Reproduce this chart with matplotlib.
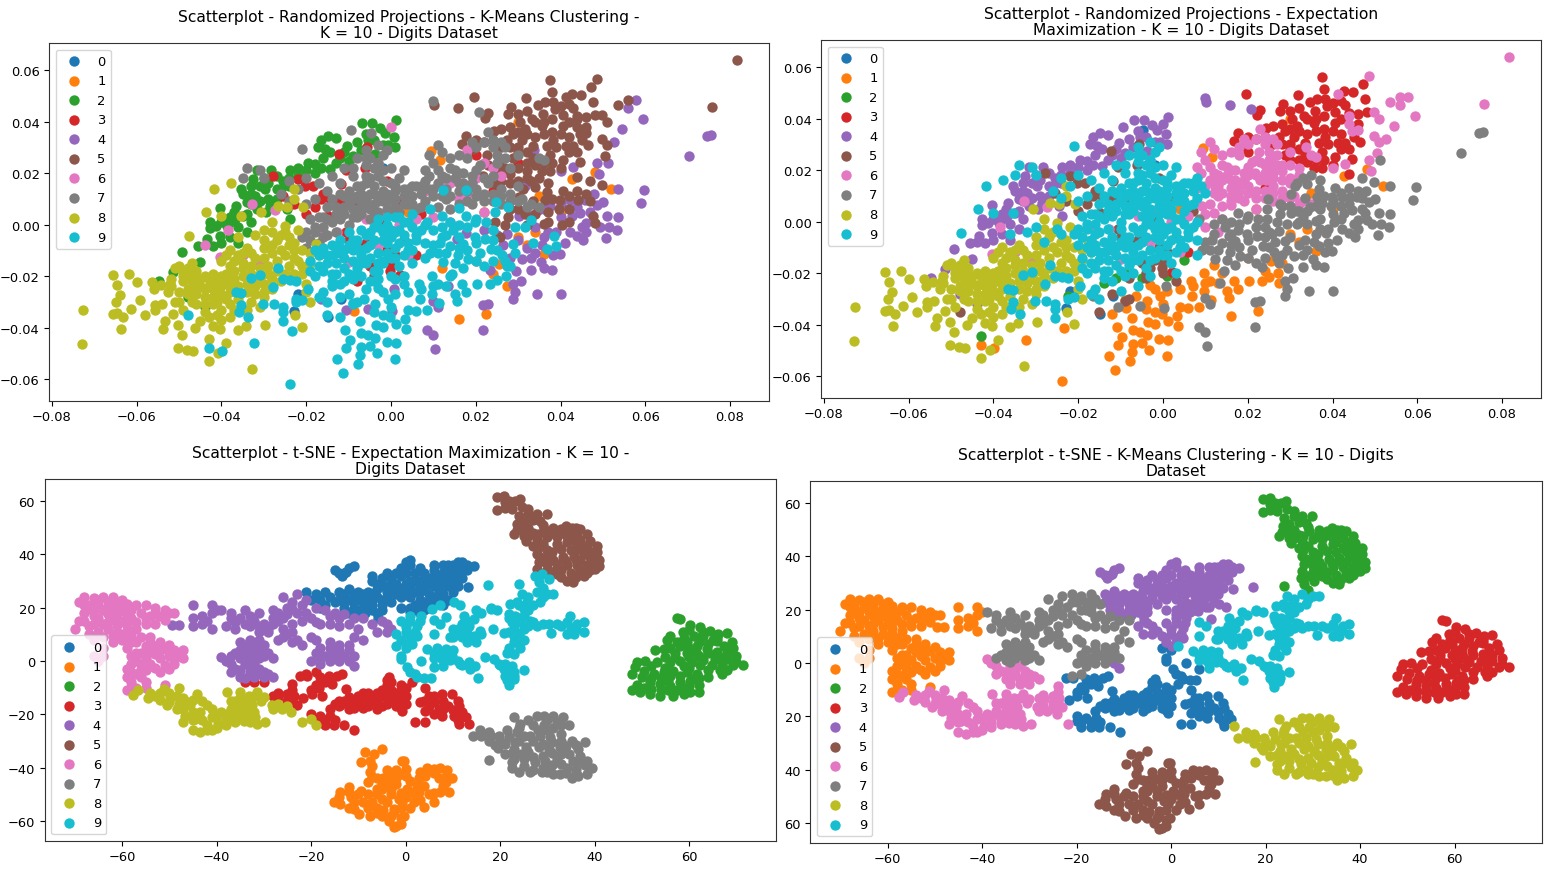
import numpy as np
import matplotlib
matplotlib.use("Agg")
import matplotlib.pyplot as plt

W, H = 1566, 878
LABELS = list(range(10))

# ---------- randomized projection points (units of 0.001) ----------
rp_olive = [(-72.7,-33.3),(-72.8,-46.2),(-65.6,-19.7),(-64.6,-23.6),(-61.8,-19.1),(-60,-22.3),(-64,-27.5),(-64.8,-30),(-65.7,-34.6),(-64.6,-34.2),(-63.2,-36),(-63.7,-40.4),(-61.3,-32.6),(-59.3,-29.4),(-58,-35),(-56.5,-22.3),(-56,-25),(-55.8,-31.4),(-55.8,-33.3),(-54,-30.7),(-53.8,-40.4),(-53.4,-37.5),(-54.2,-23.6),(-52.2,-23),(-52.6,-26),(-50.9,-30),(-51.4,-34.6),(-50.2,-38.8),(-49.4,-43),(-50.2,-48),(-48.1,-48.8),(-46.7,-49),(-46.3,-40),(-45,-37.5),(-42.9,-53),(-40.8,-49.7),(-39,-45.8),(-42,-39.5),(-40.4,-40.4),(-36,-40.8),(-34.3,-39.4),(-29.8,-39),(-32.9,-56),(-21,-39.7),(-22.7,-35),
 (-50,-16),(-48,-17),(-46,-18),(-44,-20),(-42,-19),(-40,-20),(-49,-20),(-47,-22),(-45,-24),(-43,-24),(-41,-23),(-39,-22),(-37,-21),(-35,-20),(-33,-19),(-31,-17),(-29,-16),(-27,-14),(-25,-12),(-23,-10),(-52,-24),(-50,-26),(-48,-25),(-46,-27),(-44,-28),(-42,-28),(-40,-27),(-38,-26),(-36,-24),(-34,-23),(-32,-24),(-30,-23),(-28,-21),(-26,-22),(-50,-30),(-46,-31),(-42,-31),(-40,-33),(-38,-31),(-36,-29),(-33,-30),(-30,-28),(-40,-37),(-44,-34),(-36,-12),(-38,-10),(-35,-15),(-33,-11),(-34,-9),(-40,-14),(-38,-16),(-24,-16),(-22,-14),(-21,-19),(-19,-11),(-17,-12),(-20,-26),(-19,-30),(-30.7,4.8),(-26.6,7.4),(-24.6,7),(-20.7,6.7),(-23,13.8),(-23,10),(-28,1),(-25,-0.5),(-22,-2),(-17.6,-7.5),(-27,-6),(-30,-9),(-49,-18),(-52,-21),(-47,-15)]
rp_olive_more = [(-51,-17),(-49,-22),(-47,-19),(-45,-21),(-43,-21),(-41,-21),(-39,-19),(-37,-18),(-35,-17),(-33,-16),(-31,-21),(-29,-19),(-27,-18),(-25,-19),(-48,-27),(-46,-24),(-44,-25),(-42,-25),(-40,-24),(-38,-24),(-36,-27),(-34,-26),(-32,-27),(-30,-26),(-28,-25),(-47,-30),(-44,-31),(-41,-30),(-39,-29),(-37,-33),(-34,-33),(-31,-32),(-43,-36),(-41,-35),(-38,-36),(-49,-33),(-35,-11),(-32,-13),(-30,-13),(-28,-11),(-26,-10),(-24,-8),(-37,-14),(-39,-12),(-30,-6),(-28,-3),(-26,-4),(-23,-7),(-21,-10),(-23,-13),(-19,-15),(-21,-16),(-20,-23),(-23,-19),(-48,-20)]
rp_olive_b9 = [(-37.8,16),(-41.7,13.8),(-43.7,4.8),(-47.6,-4.5),(-40.2,3.5),(-35.3,3.5),(-32,-4),(-30,-2),(-28,-8),(-25,-3),(-24,-5),(-36,-5)]
rp_olive_b2 = [(-42.9,-44.3)]
rp_green = [(1.3,40.6),(-4.4,39.6),(-6.8,39.6),(-2.6,37.4),(-1.4,35.7),(0.7,34),(-4,33),(-0.6,31),(0.9,30.3),(-10.3,30.6),(-13,33.8),(-14.8,34.5),(-16.6,32.8),(-17.2,30),(-15.6,29.3),(-14.4,28),(-8.9,26.7),(-10,24.8),(-3.8,27.4),(-19.5,24),(-18,23.5),(-16.4,22),(-14.4,21.5),(-23.9,21),(-28.4,21.3),(-31.7,21),(-35.5,14),(-32.5,17.7),(-31,15),(-27,19),(-25.4,17),(-32,11),(-29.8,13.8),(-27,13.8),(-36.5,7.4),(-34,8.6),(-40.4,6.5),(-42.8,1),(-42.8,-1.4),(-41.2,-0.6),(-38.8,-0.4),(-36.9,2.2),(-35,3.5),(-31.7,6),(-29.4,4.8),(-43.5,-5.5),(-40.4,-4.5),(-42,-8.4),(-45.6,-8.4),(-36,-7.2),(-49.4,-10.7),(-45,-14.6),(-51.4,-18.5),(-54.7,-22),(-48,-28),(-44,-32),(-23.9,2.2),(-28.6,7.4),(-24.6,6),(-33,15),(-30,18),(-24,15),(-22,19),(-20,21),(-12,26),(-7,29),(-5.5,33),(-34,4),(-38,3),(-33,1)]
rp_green_more = [(-33,8),(-31,9),(-29,10),(-27,10),(-26,14),(-24,18),(-22,22),(-18,20),(-16,26),(-13,24),(-11,28),(-8,32),(-6,35),(-2,31),(-40,1),(-38,1),(-36,-1),(-34,-3),(-40,-7),(-38,-5),(-35,12),(-33,12),(-29,16),(-28,8),(-37,5)]
rp_grey_b9 = [(-21,-5),(-19,-6),(-18,-3),(-20,-9),(-17,-7),(-15,-4),(-16,-1),(-14,1),(-13,-3),(-12,2),(-11,4),(-10,0),(-12,6),(-9,3),(-8,6),(-10,8),(-7,4),(-6,7),(-5,2),(-6,10),(-4,8),(-3,5),(-4,12),(-2,9),(-1,6),(-2,13),(0,10),(1,7),(1,13),(2,5),(3,11),(4,8),(4,14),(5,11),(6,6),(6,15),(7,12),(8,9),(8,17),(9,14),(-8,11),(-10,13),(-7,15),(-5,18),(-4,15),(-3,19),(0,16),(2,18),(-9,22),(-6,23),(-8,26),(-5,26),(-3,24),(-2,27),(0,22),(-14,10),(-12,12),(-15,7),(-17,3),(-19,2),(-20.9,29.3),(-34,22),(-35,18),(-31,21),(-30,18),(-26,12),(-24,9),(-22,14),(-20,18),(-24,17),(-17,16),(-14,19),(-11,22),(10,11),(3,21),(-1,29),(-3,31),(-6,29)]
rp_grey_b9_more = [(-18,-1),(-16,3),(-13,4),(-11,7),(-9,6),(-7,9),(-5,6),(-3,9),(-1,9),(1,10),(3,8),(5,8),(7,7),(-9,10),(-7,12),(-5,12),(-3,11),(-1,12),(1,15),(3,14),(5,15),(7,15),(-6,16),(-8,15),(-2,17),(-11,11),(-13,7),(-15,2),(-20,-3),(-16,-5),(0,5),(-4,5),(-8,3),(-6,19),(-9,19),(-12,16),(-15,13),(-18,10),(-20,8),(-2,21),(-4,22),(-6,26)]
rp_grey_b6 = [(11,16),(12,19),(13,14),(14,22),(15,18),(16,13),(17,20),(18,26),(19,16),(20,11),(21,23),(22,18),(12,28),(14,26),(10,24),(9,27),(11,31),(20,30),(23,36),(24,30),(26,32),(27,30),(25,24),(24,19),(26,14),(28,9),(30,15),(28,22),(31,10),(30,27),(33,8),(35,26),(36,25),(22,12),(18,9),(16,8),(14,6),(11,7),(13,10),(24,9),(19,8),(26,8),(22,32)]
rp_grey_b6_more = [(10,14),(12,11),(14,11),(16,16),(18,13),(20,14),(22,9),(24,12),(26,11),(28,12),(13,18),(15,21),(17,16),(19,19),(20,21),(11,21),(9,19),(23,16),(25,27),(27,26),(24,33),(19,32),(16,27),(8,21),(30,9),(32,7),(35,7)]
rp_grey_b4 = [(-9.5,36.6),(9.8,48),(20.8,43.8)]
rp_grey_b0 = [(-4.8,35.7)]
rp_cyan_b9 = [(-19,-14),(-17,-12),(-15,-15),(-13,-11),(-11,-13),(-9,-10),(-7,-12),(-5,-8),(-3,-11),(-1,-7),(1,-9),(-14,-8),(-12,-6),(-10,-3),(-8,-6),(-6,-4),(-4,-1),(-2,-3),(0,-5),(2,-2),(-3,2),(-1,0),(1,3),(3,-4),(4,1),(-16,-18),(-13,-19),(-11,-17),(-8,-17),(-6,-15),(-4,-18),(-2,-14),(0,-13),(2,-16),(-9,-21),(-12,-23),(-18,-20),(-33,-20.8),(-31,-19.7),(-26.6,-17),(-25.4,-21),(-23.9,-21.7),(-22.3,-22),(-27.8,-24.3),(-19.5,-25),(-36.5,-26),(-35.3,-26.5),(-35.5,-31.4),(-35.8,-34),(-33.7,-36),(-30.2,-30.7),(-27.6,-30.7),(-25.6,-32),(-25.4,-34),(-25.6,-37.5),(-22.3,-30),(-21,-29.4),(-17,-28),(-15,-30),(-16,-26),(-14,-22),(6,-6),(4,-10),(7,-2),(5,4),(8,-13),(3,-20),(-6,-25),(-10,-27)]
rp_cyan_b9_more = [(-18,-10),(-16,-9),(-14,-12),(-12,-9),(-10,-8),(-8,-9),(-6,-9),(-4,-6),(-2,-6),(0,-2),(2,-7),(4,-7),(-7,-2),(-5,-3),(-3,-1),(1,-3),(3,1),(5,-1),(-1,3),(-9,-6),(-11,-10),(-13,-15),(-9,-14),(-7,-15),(-5,-13),(-3,-15),(-1,-11),(1,-13),(3,-12),(5,-10),(-15,-12),(-17,-16),(-19,-18),(-14,-19),(-10,-19),(-7,-20),(-3,-21),(6,-4),(8,-7),(8,0),(2,3)]
rp_cyan_b1 = [(-43,-48),(-39.8,-49),(-32.3,-46),(-23.3,-41.4),(-23.9,-62),(-11.4,-57.8),(-7.9,-54),(-12.7,-52),(-10.5,-48),(-9.7,-45),(-7,-47.5),(-7.3,-50.7),(-3.4,-49.8),(0.9,-52),(-5.4,-43),(-3.8,-44),(-1,-45.5),(1.3,-46),(-10.9,-40.8),(-7.3,-37.5),(-3.5,-39),(-1.8,-39.7),(1.2,-38.5),(-1.8,-35),(-0.2,-36),(-12,-36),(-8.9,-30.5),(-6.4,-28.8),(-3.8,-30.7),(-0.8,-28.8),(-3,-24.6),(3.3,-36.7),(3.5,-40.5),(4,-33),(6,-33.6),(8.4,-33),(6.8,-29),(9.6,-27),(11.4,-30.5),(6.5,-23),(9.6,-20),(11.1,-23),(15,-27),(15.6,-29.6),(17.7,-26.3),(16.7,-23),(20.4,-22.9),(23.4,-23),(25.1,-21.5),(27.1,-20),(13.9,-20),(28,-16),(-2,-26),(1,-27),(4,-26),(7,-25),(10,-24),(13,-24),(-4,-34),(0,-32),(-7,-42),(-5,-47)]
rp_cyan_b7 = [(24.8,8.6),(24.6,5),(27.5,7),(33,1.9),(29.3,-1),(31.6,-0.8),(38.5,-4.5),(33.6,-7),(39,-8.5),(36.7,-9.5),(8.4,1),(17.8,3.3),(19.8,0.9),(14.7,-2.2),(22.4,1),(11.6,-7),(14,-8.3),(17,-7.6),(19.8,-4.7),(22.1,-5.6),(23.7,-9.5),(28.9,-7.5),(29.3,-10.9),(26.1,-12),(9.2,-11),(12.3,-14.6),(15.8,-12),(18.2,-13.3),(21,-10.9),(17,-17),(14.3,-19),(27.3,-16.2),(10,-8),(12,-5),(16,-5),(18,-10),(20,-7),(24,-6),(25,-10),(27,-14),(20,-14),(24,-14),(15,-15),(11,-11),(22,-16),(13,-11),(16,-9),(14,1),(16,0),(18,-1),(20,2),(12,-1),(24,-2)]
rp_cyan_b6 = [(12.3,13.5),(17.7,13.3),(16.1,6.6),(9.2,6),(12,3.3),(10,-2),(13,-4)]
rp_cyan_b5 = [(-47.9,-35),(-12,-28),(-8,-30),(-15,-35),(-9,-31),(-4,-22),(-3,-18),(-2,-15),(0,-20),(3,-23)]
rp_cyan_b2 = [(-14,-24),(-11,-22),(-9,-20),(-5,-22),(-22.5,-29),(5,-15),(1,-21)]
rp_blue = [(-14.8,-36),(-11.7,-28.8),(-22.9,-33.5),(-21.9,-26.8),(-2,22)]
rp_red_b5 = [(-27.8,19),(-25.4,11),(-21.9,17.7),(-20.3,15),(-18.3,15),(-16.4,10),(-14.4,10),(-12.3,27.4),(-5.7,30),(-10.5,21),(-6.1,22),(-1,17),(-11.7,15.7),(-14.8,3.5),(-10.5,-3),(-8,-22),(-8,-8),(-0.2,-18),(-23,8),(-5,-16),(1,-12),(-18,7),(-16,12),(-20,4),(-12,9),(-8,8),(-2,1),(2,9),(-6,-7),(-10,-6),(-1,-10),(3,-6),(7,4),(-4,-20),(0,-16)]
rp_red_b3 = [(2.2,-19.7),(20,27),(30,24),(24,13),(6,-12)]
rp_pink_b6 = [(-32.8,8),(-27.4,5.8),(-38.4,-2.3),(-34.9,-12),(-40.4,-12.6),(-31,-14.6),(-12.8,-3),(-10,-14.6),(-3,24),(10,3),(14,16),(18,29),(22,24),(-3,-8),(4,-12),(14,1),(18,12),(-16,-3),(-12,-11),(-6,2),(-2,4),(2,0),(6,2),(8,13),(12,15),(16,20),(20,18),(24,22),(16,10),(22,5),(26,19)]
rp_pink_b4 = [(0,38),(-44,-8)]
rp_brown_b3 = [(47.3,53.5),(37.5,56),(38.1,51.3),(31.8,49),(19.6,49.7),(47.7,47.5),(44.8,50.3),(42.6,50.7),(34.6,46.6),(36.3,47.5),(38.3,47.5),(28.3,45.8),(27.7,43.1),(22.9,43.3),(22.2,41.4),(35.9,42.9),(38.7,44.9),(40.7,42.4),(43,45.2),(46,41.6),(48.1,42.6),(30.4,40),(33.2,41),(31.6,37),(35.6,38.3),(40.7,38.3),(28.9,35),(24.2,36.4),(17.8,34.4),(16.7,31.2),(19.4,29.4),(27.3,33),(30.8,33),(33.6,30.5),(38.3,33),(36.7,30.5),(41.4,30.5),(43,30.5),(46.6,31),(44.6,24.3),(44,18.6),(28.9,26),(32,24),(33.6,26),(37.5,27),(40.7,25),(35.6,20.8),(37.5,20.8)]
rp_brown_b3_more = [(30,36),(32,35),(34,34),(36,35),(38,36),(40,35),(42,34),(34,40),(36,40),(38,41),(30,43),(32,44),(42,40),(44,42),(46,38),(42,47),(26,37),(24,33),(22,32),(20,33),(28,30),(30,30),(32,28),(34,23),(38,24),(40,22),(42,28),(44,28),(30,28),(26,30),(36,24),(39,30),(45,33),(28,38),(40,46)]
rp_brown_b6 = [(81.6,63.9),(75.8,45.8),(48.5,56.5),(55.9,48.3),(53.6,46.6),(41.2,49.7),(43.8,41),(49.7,42.6),(51,40),(43.8,37.7),(44.6,35),(46,35.4),(49.7,33.4),(50.9,31),(50.5,26.8),(22.6,26.9),(25.7,25.1),(32,20.8),(25.7,19),(21.8,19),(24.2,16.3),(28.1,19.7),(25,21),(27,22),(23,23),(30,22),(32,18),(28,16),(26,17),(30,17)]
rp_brown_b4 = [(15.7,45.2),(10.2,46.5)]
rp_brown_b7 = [(46.9,16.9),(49.7,15.3),(31.2,13.8),(34,14.7),(37.1,16),(36.8,12.5),(40.7,13.2),(36.3,9.6),(33.6,9),(30.1,10.9),(39.9,9.6),(44.2,9.6),(46.9,9),(41.9,6),(39.7,6),(31.6,4),(27.7,3),(24.6,0.9),(27,-0.1),(36,0.3),(37.1,1),(40.3,-0.1),(47.7,3.4),(48.1,0.6),(25.7,-5),(33,17),(35,18),(38,10),(42,11),(44,13),(46,12),(37,5),(34,4),(30,6),(28,6),(32,0),(42,1)]
rp_purple_b6 = [(57.8,48.4),(56,45.4),(59.4,41),(54.6,37.2),(52.6,31.9),(48.5,23.9),(49,19.5),(33.8,29),(40.1,20.8),(43,22.3)]
rp_purple_b7 = [(51.3,24),(70.4,26.7),(74.5,34.2),(75.5,34.8),(53.5,13.9),(59.6,13.4),(59,8.4),(53.6,3),(49.3,-1),(51.5,-1),(53.3,-2),(50.7,-5.4),(45.2,-6),(46,0.6),(42.2,9.6),(45.8,9.6),(48.5,7.6),(50,8.6),(50.9,3.4),(44.6,4.4),(42.6,3.4),(37.5,7.3),(34.8,5.6),(34,-0.9),(37.1,-2.7),(42.2,-2.7),(43.8,-4.4),(35.6,-8),(38.3,-12),(39.9,-11.4),(35.3,-14.6),(33,-17.5),(38.1,-17.5),(29.6,-17.9),(30.7,-22),(28.7,-23),(29.3,-26.3),(28.9,-29),(34.4,-27),(40.1,-27),(22.9,-31),(21.8,-31.4),(21.6,-40.9),(11.2,-32),(10,-29.6),(8.6,-40.8),(9.8,-43),(10.3,-48.3),(13.5,-24),(23.4,-17.5),(26.5,-7.9),(27.3,-3.6),(31,-13.4),(30.1,3.5),(31.6,15),(15.5,-5.6),(17.8,-3.3),(0.8,-25),(-10.5,-33.3),(-5.4,-32.9),(0.2,-33.7),(-16.4,-28.8),(40,8),(44,7),(47,5),(48,12),(40,3),(46,-3),(39,-3),(36,-5),(34,-11),(32,-9),(30,-6),(28,-13),(36,-17),(33,-13),(25,-4),(22,-2),(32,4),(36,6),(45,-1),(41,-7)]
rp_orange = [(16.1,-36.8),(22.4,-34.7),(27.3,-24),(36,-11.6),(25.6,-15.3),(-8.7,-33.7),(52,13.9),(48.1,20.4),(42.6,17.6),(9.4,28.7),(11.5,25),(30,39.7),(32,-8),(20,-14),(24,-19),(12,-17),(34,-3),(40,5),(35,11),(-2,-2),(4,5),(22,5),(30,-5)]

rp_groups = [
    (rp_olive, 8, 8), (rp_olive_more, 8, 8), (rp_olive_b9, 8, 9), (rp_olive_b2, 8, 2), (rp_green, 2, 4),
    (rp_green_more, 2, 4), (rp_grey_b9, 7, 9), (rp_grey_b9_more, 7, 9), (rp_grey_b6, 7, 6), (rp_grey_b6_more, 7, 6),
    (rp_grey_b4, 7, 4), (rp_grey_b0, 7, 0), (rp_cyan_b9, 9, 9), (rp_cyan_b9_more, 9, 9), (rp_cyan_b1, 9, 1),
    (rp_cyan_b7, 9, 7), (rp_cyan_b6, 9, 6), (rp_cyan_b5, 9, 5), (rp_cyan_b2, 9, 2), (rp_blue, 0, 0),
    (rp_red_b5, 3, 5), (rp_red_b3, 3, 3), (rp_pink_b6, 6, 6), (rp_pink_b4, 6, 4), (rp_brown_b3, 5, 3),
    (rp_brown_b3_more, 5, 3), (rp_brown_b6, 5, 6), (rp_brown_b4, 5, 4), (rp_brown_b7, 5, 7), (rp_purple_b6, 4, 6),
    (rp_purple_b7, 4, 7), (rp_orange, 1, 1),
]

# ---------- t-SNE points ----------
t_pink = [(-69,22),(-68,24),(-67,21),(-65,23),(-64,24),(-63,22),(-62,24),(-61,22),(-60,23),(-66,19),(-68,18),(-64,19),(-62,19),(-60,19),(-58,19),(-57,21),(-55,21),(-56,18),(-54,17),(-53,20),(-52,17),(-50,18),(-49,18),(-53,14),(-55,14),(-58,16),(-60,15),(-62,16),(-64,14),(-66,17),(-66,14),(-68,15),(-70,12),(-67,10),(-65,11),(-63,12),(-61,11),(-59,13),(-57,12),(-56,9),(-54,7),(-52,7),(-50,6),(-49,4),(-47,4),(-48,2),(-50,2),(-52,4),(-54,4),(-56,3),(-55,1),(-57,0),(-58,-1),(-56,-3),(-54,-2),(-52,-4),(-50,-3),(-49,-1),(-47,1),(-52,1),(-54,-1),(-58,7),(-60,8),(-62,7),(-64,9),(-59,5),(-58,-8),(-57,-10),(-55,-10),(-56,-6),(-55,-8),(-57,-5),(-51,-9),(-59,-11),(-66,2),(-64,2),(-65,0),(-66,8),(-64,5),(-57,3),(-59,-3),
 (-67,19.5),(-65,21),(-63,20.5),(-61,20.5),(-59,21.5),(-59,17.5),(-61,17.5),(-63,17.5),(-65,16),(-67,13),(-63,14.5),(-61,13.5),(-59,11),(-57,14.5),(-55,16),(-53,17.5),(-51,19),(-51,15.5),(-68,21),(-66,23.5),(-62,9.5),(-60,10),(-58,9.5),(-57,7),(-55,5.5),(-53,5.5),(-51,4.5),(-53,2.5),(-51,-1.5),(-53,-2.5),(-55,-3.5),(-58,2),(-56,-1),(-49,0.5),(-54,9),(-52,5.5),(-59,-6),(-58,-4),(-58,-10),(-69,15)]
t_left = [(-45,21),(-41,21),(-45,16),(-45,13),(-43,17),(-41,18),(-41,12),(-42,15),(-48,13.5),(-40,19),(-43,14),(-49.5,13.5)]
t_mid_grey = [(-39,19),(-37,16),(-38,13),(-36,12),(-35,16),(-34,19),(-33,17),(-33,13),(-31,11),(-29,11),(-30,14),(-29,12),(-31,18),(-28,19),(-27,18),(-26,16),(-25,20),(-24,22),(-23,25),(-22,21),(-26,24),(-23,18),(-22,15),(-27,15),(-26,12),(-25,10),(-27,8),(-24,7),(-22,6),(-26,9),(-20,9),(-19,8),(-19,20),(-17,19),(-15,18),(-14,16),(-18,14),(-16,14),(-14,13),(-12,14),(-11,16),(-9,16),(-10,12),(-9,8),(-11,9),(-35,7),(-33,8),(-31,8),(-35,4),(-33,5),(-31,4),(-30,6),(-37,2),(-35,1),(-33,2),(-31,1),(-29,3),(-28,1),(-16,7),(-14,6),(-12,6),(-19,3),(-17,2),(-15,3),(-13,2),(-11,2),(-20,0),(-18,-1),(-16,0),(-14,0),
 (-37,18),(-36,14.5),(-34,14),(-32,15),(-31,13),(-28,14),(-28,16),(-25,17.5),(-24,14),(-24,19.5),(-21,23),(-21,18),(-20,16),(-19,14.5),(-24,11),(-23,8),(-16,17),(-13,17.5),(-34,6),(-32,6.5),(-36,3),(-34,3),(-32,3),(-30,2),(-34,0.5),(-18,5),(-16,5),(-14,4),(-12,4),(-16,2),(-18,1),(-14,2)]
t_low_pink = [(-36,-3),(-35,-6),(-33,-4),(-31,-3),(-30,-6),(-28,-6),(-34,-1),(-32,-1),(-30,-4),(-29,-5),(-37,-1),(-39,1.5),(-35,-3.5),(-33,-2),(-31,-5),(-34,-6.5),(-32,-6),(-37,-4),(-38,0)]
t_right_purple = [(-7,14),(-5,15),(-3,12),(-6,11),(-4,14),(-4,11),(-12,0),(-11,-2)]
t_blue_grey = [(-21,26),(-19,25),(-17,26),(-20,23),(-18,23),(-16,24),(-15,22),(-17,21),(-18,20)]
t_blue = [(-14,26),(-12,27),(-10,26),(-8,26),(-6,27),(-14,23),(-12,23),(-10,24),(-8,23),(-6,24),(-13,20),(-11,20),(-9,20),(-7,21),(-5,21),(-4,24),(-12,18),(-10,18),(-7,19),(-6,18),(-15,34),(-13,33),(-12,35),(-11,35.5),(-13.5,32),(-7,32),(-6,29),(-5,31),(-3,31),(-2,33),(-1,32),(0,33),(-1,35),(0,37),(1,38),(1,36),(2,33),(3,30),(1,28),(0,26),(-1,24),(1,24),(3,26),(3,23),(2,21),(4,22),(5,25),(6,28),(5,31),(4,33),(6,34),(8,36),(9,36),(10,36),(11,37),(12,37),(13,36),(14.4,35.7),(12,34),(10,33),(8,33),(6,31),(8,30),(10,30),(12,31),(9,28),(7,26),(10,26),(7,24),(5,22),(9,23),(8,21),(2,19),(4,19),(1,18.5),(-1,20),(-3,27),(13.2,27.6),(-5.8,16),(-2,29),(3,35),(-4,28),
 (-13,25),(-11,25),(-9,25),(-7,25),(-5,23),(-3,22),(-13,22),(-11,22),(-9,22),(-7,23),(-11,19),(-8.5,18),(-5,19),(-4,26),(-2,25),(2,26),(0,29),(2,30),(4,27),(4,29),(6,24),(8,28),(8,25),(10,28),(11,32),(13,34),(9,34),(7,32),(5,29),(3,28),(-1,27),(1,30),(4,31),(6,36),(11,34.5),(9,31.5),(7,29),(-5,28),(-7,30),(-4,33),(-3,29),(1,20),(3,21),(3,18),(5,20),(6,22),(11,28),(-14,33),(-12.5,33.5)]
t_cyan = [(27.8,25.8),(30,25),(31.3,25),(28.5,22),(24.6,25),(23.6,22),(22.2,21.4),(25.7,22),(27,20.8),(25,19.5),(21.8,17.6),(23.2,17),(25,17),(26.4,15),(24.3,14.5),(22.5,14.5),(27.8,13),(30.3,14),(32,14),(34.2,14.5),(34.9,17),(37.7,14.7),(36.3,14),(34.2,10),(35.6,10),(37.7,10.8),(30.8,10.5),(25,12),(20.8,10.4),(22.9,9.5),(25,8),(22.9,7),(24.3,5),(21.5,3),(22.9,2.6),(18,19.5),(19.4,19),(18.5,12),(15,19),(12.3,17),(14.4,15.7),(12,14),(11,10.7),(12.7,10.7),(14.4,9.5),(15.8,11.4),(9.5,8.9),(15,7),(13,7),(6,15.5),(7.4,14),(6,10),(1.4,6.4),(4.6,4.5),(6.7,5),(8.5,4.5),(6,3),(7.7,0.8),(9.9,2),(11,0),(8,-1.8),(11.6,-1),(13.4,-0.5),(13.7,-3),(14.8,-2),(15.3,-6.5),(16.9,1.4),(18.7,0.8),(19.7,-1),(20.8,-3),(22.5,-1.8),(25,-3.3),(21,-5.5),(22.9,-6.8),(21.8,-9),(23,-4),(10,12),(13.5,13),
 (26,24),(29,24),(26,19),(24,21),(24,16),(22,16),(26,13),(23,12),(24,10),(27,14.5),(29,14),(33,13),(36,12),(35,12.5),(22,11),(24,6.5),(22,5),(13,15),(13,12),(12,9),(11,12),(10,9),(13,9),(16,10),(7,3),(8,3),(9.5,0.5),(10,4),(6,1),(12,-1.5),(20,-1.5),(21,-1),(22,-4),(23,-5.5),(21.5,-7),(18,20),(16,18)]
t_c_purple = [(1,17),(3.2,17),(0,12.6),(2.5,13),(2.5,9.5),(1,9.5),(8.5,16.4),(0.2,6.5),(17.4,28.5),(10.2,22),(11.6,21),(7.4,21),(5.6,19.5),(-1,15),(-2,10),(1,15),(3,15),(0,11),(2,11),(-1,8)]
t_c_blue = [(-2,5.5),(0,5),(-1,0.8),(3.2,-0.2),(0.4,-2.4),(1,-4),(2.5,-6),(5.3,-6.4),(6,-2.4),(4,-6.5),(-1,2),(2,-5)]
t_c_green = [(24,29),(27.5,32),(28.9,32.6),(30.3,30.8),(28.2,29.5),(29,27.5)]
t_red = [(-16,-18),(-14,-17),(-13,-15),(-12,-16),(-11,-15),(-10,-16),(-9,-14),(-8,-15),(-8,-12),(-7,-13),(-6,-15),(-5,-13),(-5,-11),(-4,-9),(-3.5,-6),(-3,-11),(-3,-14),(-2,-17),(-1,-15),(-1,-11),(-1,-9),(0,-13),(0,-16),(1.4,-8),(-1.4,-13),(-0.7,-18.6),(4.2,-10),(5,-13),(3,-15.5),(4.2,-18.6),(6,-15.5),(7.7,-12.4),(9.9,-12.4),(9,-16.8),(11.3,-16.8),(7.7,-20.5),(10.2,-20.5),(12.7,-21),(11.3,-23.6),(2,-23),(4.2,-23),(-19.8,-12.4),(-18.4,-10),(-17.7,-13),(-15.5,-8.6),(-18,-6),(-16.2,-5.5),(-22.3,-5.5),(-20.8,-5.8),(-13.4,-4.9),(-20,-20),(-18.1,-20.5),(-15.9,-20.5),(-15.2,-24),(-13,-24),(-17,-24),(-10.8,-26),(-12.6,-10.5),(-13.8,-16.7),(-21.6,-14),(-12,-18),(-9,-17.5),(-5,-17),(7,-18),(-6,-18),
 (-14,-15),(-12,-13.5),(-10,-13),(-8,-17),(-6,-12),(-4,-13),(-4,-16),(-2,-12),(-2,-14.5),(0,-10),(-3,-8),(-1,-17.5),(4,-15),(6,-13),(8,-15),(5,-17),(8,-18),(10,-18.5),(12,-19),(11,-15),(6,-20),(-15,-22),(-17,-22),(-19,-22),(-18,-8),(-17,-8),(-19,-9),(-20,-11),(-16,-7),(-14.5,-5.5),(-7,-15),(-11,-17.5),(-15,-16),(-12,-15),(-9,-12),(-4,-7),(11,-22)]
t_red_pink = [(-34,-8),(-32,-8),(-30,-8),(-26.9,-13.6),(-25,-15),(-23.7,-13),(-24,-8.6),(-23,-16.7),(-27,-12),(-25,-12.5),(-24,-11),(-28,-13),(-24,-15)]
t_red_grey = [(-21,-5),(-19,-4)]
t_red_olive = [(13.4,-23.6)]
t_olive = [(-57.6,-12.8),(-56.7,-11),(-54.4,-14),(-53,-13),(-51.2,-10.5),(-52,-14.5),(-49.8,-14),(-48.4,-13),(-48,-10),(-50.5,-16.7),(-48.4,-18),(-46.6,-20.5),(-45.6,-16.7),(-44.2,-12.4),(-45,-14.5),(-42,-16.7),(-43.4,-19),(-44.5,-21.7),(-43.4,-26.7),(-42,-24),(-41,-26),(-39.6,-23.6),(-40,-20.5),(-37.8,-20),(-36,-23),(-34.2,-22.4),(-36.4,-19),(-35,-16.7),(-32.5,-16.7),(-31.8,-21),(-31.4,-23.6),(-29.7,-23),(-33.2,-13),(-31.4,-11.7),(-30,-13.6),(-37.8,-11.7),(-37,-14.9),(-35,-11.7),(-33.5,-19.5),(-28.3,-16.7),(-26.2,-18),(-24.2,-19),(-21.9,-23),(-46.3,-15.5),(-47,-23),
 (-52,-12),(-50,-12),(-47,-14),(-50,-15.5),(-47,-18),(-45,-19),(-45,-22),(-43,-22),(-41,-21),(-43,-15),(-41,-18),(-39,-19),(-38,-22),(-40,-25),(-38,-24),(-35,-20.5),(-33,-18),(-34,-16),(-33,-15),(-36,-15),(-35,-14),(-37,-18),(-32,-13),(-30.5,-15),(-32,-19),(-34,-21),(-33,-23),(-27,-16),(-25,-17),(-28,-18),(-48,-16),(-45,-26),(-42,-26),(-36,-21),(-54,-12),(-35,-18)]
t_olive_blue = [(-20,-21.7),(-19,-24)]
t_green = [(57.4,16),(58.1,15.7),(60.2,13.5),(62.3,12.6),(64.5,11.4),(66.2,10),(68,10.5),(69,7),(69.4,5),(58.8,10.7),(61,9.5),(63,9.5),(65.1,8),(67.3,5.7),(55.3,8),(57.4,7),(59.5,7),(61.6,5.7),(63.7,4.5),(52.8,4.2),(54.6,4.5),(57,3),(59.5,3),(62,2),(65.5,0.7),(68,0.7),(70,2),(71.5,-1.7),(69.4,-1.7),(66.9,-1.7),(64.8,-1.7),(48.6,-2.4),(50.7,0),(53.2,-0.5),(56,-0.5),(58.1,0),(60.6,-0.5),(62.3,-1.7),(47.9,-4.9),(50.4,-3.6),(52.5,-4.9),(54.6,-4.2),(56.7,-3.6),(59.5,-4.2),(61.6,-4.9),(64,-6),(66.9,-4.9),(47.9,-11),(49.7,-11.7),(49,-9),(51.8,-12.4),(53.9,-13),(55.6,-11),(57.4,-11),(60.2,-11.7),(62,-9),(60.2,-7.4),(58.1,-8),(55.6,-7.4),(53.9,-8.6),(51.8,-8),(50.5,-10),(58.8,-10.5),
 (56,5),(58,5.5),(60,5),(62,7),(64,6.5),(66,7.5),(64,3),(66,3.5),(68,3),(60,1.5),(64,-3.5),(62,-6.5),(60,-9.5),(58,-5.5),(56,-5.5),(54,-6.5),(52,-6.5),(50,-6),(52,-10.5),(54,-11),(56,-9.5),(52,-2),(55,1.5),(59,-2),(63,0.5),(67,1),(55,-2.5),(49,-0.5),(60,11.5),(63,11),(66,8.5),(56,9.5),(59,8.5),(61.5,3.5),(57,1.5),(66.5,-3.5),(68,-3.5),(70,-0.5),(60,-2.5),(56.5,-13),(59,-12.5),(62,-11.5),(61,-6.5)]
t_brown = [(19.4,61.4),(20.9,62),(19.4,56.4),(21,59.5),(23.2,60),(24.3,60.8),(24.6,57.6),(26,57),(27.8,55),(29.9,55),(24,54.5),(23.6,51.4),(28.5,52.6),(22.9,47.6),(24.6,48.9),(26,50),(27,48),(29.2,49.5),(31.3,50),(33,49.5),(35.2,50),(37,49.5),(25.4,45),(27,43),(27.8,45.8),(30,46.4),(32,46.4),(34.2,47),(36.3,47),(38.4,47.6),(39,45),(40.5,43),(40.5,40.8),(38.4,43),(36.3,43),(34.2,44.5),(32,44),(30,41.4),(27.8,40),(31.3,38),(33.4,39),(35.6,39.5),(37.7,40),(39.8,37.6),(40,34.5),(38.4,33),(38.4,36),(36.3,36),(34.2,35.8),(32,35),(30,36.4),(28.2,37),(27.8,34.5),(30.3,33.9),(32,32.6),(34.2,30),(36,31.4),(37.7,32),
 (21,57.5),(22.5,57),(22,60),(25,52),(27,53),(26,55),(29,51),(31,48),(33,48),(35,48.5),(37,45.5),(35,45.5),(33,42),(35,41.5),(37,42),(39,41),(39,39),(41,38),(41,35.5),(36,38),(34,37.5),(32,36.5),(30,38.5),(28,42.5),(29,44),(26,47),(30,34),(28.5,39),(33,34),(35,33),(37,34),(39,35),(31,41),(28,47.5),(36,50),(34,50.5),(39,34),(35.5,29.5),(33,31.5),(25,47),(23.5,49),(37,38)]
t_grey = [(22.9,-20.9),(24.3,-23.6),(14.2,-28),(15.8,-26),(17.6,-26.5),(17.6,-30),(17.7,-37),(19.7,-28),(21.5,-26),(23.6,-26.8),(21,-31),(21,-35),(23.2,-30.5),(22.5,-40),(24,-41.8),(23,-36.8),(25,-36.8),(25.4,-32.4),(26.4,-28),(27.8,-20.5),(29.2,-20.5),(31.3,-20.5),(33.4,-21),(34.5,-24),(27,-24),(29.2,-24),(31.3,-25),(33,-27.4),(30.6,-28.6),(28.5,-28),(28.2,-32.4),(30.3,-33),(32.7,-32.4),(35.2,-30),(38,-30.5),(36.6,-33),(34.5,-35),(32,-36.8),(29.6,-37.4),(27.4,-38),(26.4,-41.8),(28.9,-41.8),(31.3,-42.4),(32.7,-42.4),(34.2,-40),(36.6,-37.4),(38.4,-37.4),(39.4,-40),(38.4,-42.4),(36.6,-43),(35.2,-44),(36,-40.5),(19,-31.5),(26,-34),
 (16,-28),(18,-28),(20,-30),(22,-28.5),(24,-30),(25,-28),(28,-26),(30,-26),(32,-23),(30,-22),(33,-24),(27,-30),(29,-31),(31,-30.5),(34,-32),(33,-30),(36,-31.5),(23,-33),(24.5,-35),(22.5,-38),(25,-39.5),(27,-36),(29,-35.5),(31,-34.5),(33,-35),(35.5,-37.5),(33,-38.5),(31,-39),(29,-40),(27,-41),(30,-41.5),(34,-42),(36,-42),(38,-39),(37,-35.5),(24,-25),(26,-22),(22.5,-34.5),(19.5,-32.5)]
t_orange = [(-5,-33),(-6.7,-35),(-8.5,-34),(-9.5,-38),(-7.5,-37.4),(-7.5,-41.8),(-8,-45.5),(-6,-44),(-6,-48),(-0.7,-37.4),(-15.2,-53),(-13.8,-49),(-12,-47.4),(-9.5,-48.6),(-13.8,-53.6),(-11.6,-51),(-12,-55),(-9.8,-57.4),(-9,-53),(-7.5,-58),(-7,-53),(-5,-51.8),(-4.7,-44),(-3,-43.6),(-1,-42.4),(-3,-48),(-1.4,-51.8),(-4.7,-56),(-3.6,-60),(-2.5,-62.4),(-1,-59),(-2.5,-55.5),(-0.3,-37.4),(0,-40.5),(-2,-44),(0.4,-48),(-0.7,-53),(-2.5,-56.8),(-0.3,-58),(-2,-61.7),(1.8,-53),(3.9,-54.9),(6,-53),(1,-49),(2.8,-44),(4.6,-40),(6,-40.5),(7.4,-40),(8.8,-41),(9.9,-44),(8.5,-45.5),(9.2,-49),(7.4,-49),(2.8,-49),(4.2,-43),(2.5,-46.8),(-11,-53),(-6,-55),(-5,-48),
 (-14,-51),(-12,-49),(-10,-50),(-11,-55.5),(-8,-50),(-8,-55),(-6,-50),(-6,-57),(-4,-53),(-3,-50),(-2,-46),(-4,-46),(-1,-49.5),(0,-51),(-1,-55),(-5,-58),(-3,-58),(-1,-61),(1,-55),(2,-50),(3,-52),(5,-50),(4,-47),(6,-49.5),(7,-44),(6,-42),(8.5,-43),(3,-41.5),(1,-45),(0,-43),(-2,-41),(-4,-41),(-7,-39.5),(-7,-43.5),(-5,-46),(8,-47)]

t_groups = [
    (t_pink, 6, 1), (t_left, 4, 1), (t_mid_grey, 4, 7), (t_low_pink, 4, 6), (t_right_purple, 4, 4),
    (t_blue_grey, 0, 7), (t_blue, 0, 4), (t_cyan, 9, 9), (t_c_purple, 9, 4), (t_c_blue, 9, 0),
    (t_c_green, 9, 2), (t_red, 3, 0), (t_red_pink, 3, 6), (t_red_grey, 3, 7), (t_red_olive, 3, 8),
    (t_olive, 8, 6), (t_olive_blue, 8, 0), (t_green, 2, 3), (t_brown, 5, 2), (t_grey, 7, 8),
    (t_orange, 1, 5),
]

title_a = "Scatterplot - Randomized Projections - K-Means Clustering -\nK = 10 - Digits Dataset"
title_b = "Scatterplot - Randomized Projections - Expectation\nMaximization - K = 10 - Digits Dataset"
title_c = "Scatterplot - t-SNE - Expectation Maximization - K = 10 -\nDigits Dataset"
title_d = "Scatterplot - t-SNE - K-Means Clustering - K = 10 - Digits\nDataset"

rp_ticks_x = [-0.08, -0.06, -0.04, -0.02, 0.0, 0.02, 0.04, 0.06, 0.08]
rp_ticks_y = [-0.06, -0.04, -0.02, 0.0, 0.02, 0.04, 0.06]
t_ticks_x = [-60, -40, -20, 0, 20, 40, 60]
t_ticks_y = [-60, -40, -20, 0, 20, 40, 60]
d_ylabels = ["60", "40", "20", "0", "20", "40", "60"]

plt.rcParams.update({"font.size": 9.4, "axes.titlesize": 11.15, "axes.linewidth": 0.8,
                     "xtick.major.size": 3.3, "ytick.major.size": 3.3, "axes.edgecolor": "#333333"})
fig = plt.figure(figsize=(W / 100, H / 100), dpi=100)


def make_axes(l, t, r, b):
    return fig.add_axes([l / W, 1 - b / H, (r - l) / W, (b - t) / H])


def draw(ax, groups, col, scale, title, loc):
    for lab in LABELS:
        pts = [p for g in groups if g[col] == lab for p in g[0]]
        arr = np.array(pts, dtype=float) * scale
        ax.scatter(arr[:, 0], arr[:, 1], s=38, linewidths=1.3, color=f"C{lab}", label=str(lab))
    ax.set_title(title, pad=4, linespacing=1.08)
    ax.legend(loc=loc)


ax_a = make_axes(49, 44, 769, 402)
draw(ax_a, rp_groups, 1, 1e-3, title_a, "upper left")
ax_a.set_xlim(-0.0807, 0.0892); ax_a.set_ylim(-0.0685, 0.0705)
ax_a.set_xticks(rp_ticks_x); ax_a.set_yticks(rp_ticks_y)

ax_b = make_axes(821, 41, 1541, 399)
draw(ax_b, rp_groups, 2, 1e-3, title_b, "upper left")
ax_b.set_xlim(-0.0807, 0.0892); ax_b.set_ylim(-0.0685, 0.0705)
ax_b.set_xticks(rp_ticks_x); ax_b.set_yticks(rp_ticks_y)

ax_c = make_axes(44.5, 480, 776, 842)
draw(ax_c, t_groups, 1, 1.0, title_c, "lower left")
ax_c.set_xlim(-76.4, 78.4); ax_c.set_ylim(-67.5, 68.2)
ax_c.set_xticks(t_ticks_x); ax_c.set_yticks(t_ticks_y)

ax_d = make_axes(810.5, 482, 1542, 844)
draw(ax_d, t_groups, 2, 1.0, title_d, "lower left")
ax_d.set_xlim(-76.3, 78.5); ax_d.set_ylim(-67.5, 68.2)
ax_d.set_xticks(t_ticks_x); ax_d.set_yticks(t_ticks_y, labels=d_ylabels)

fig.savefig("out.png", dpi=100)
